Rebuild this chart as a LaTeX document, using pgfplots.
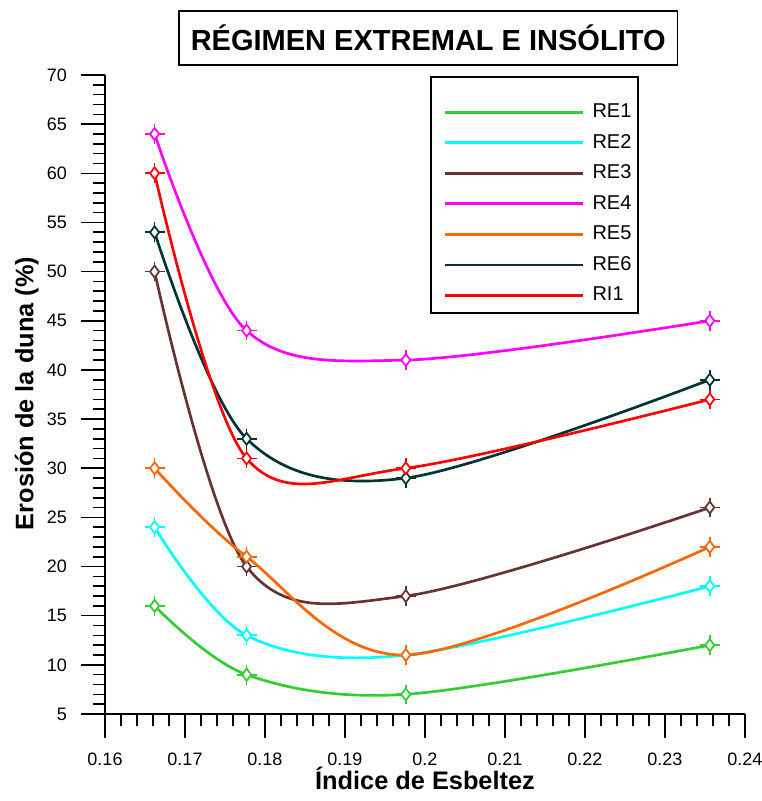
\documentclass[border=0pt]{standalone}
\usepackage{pgfplots}
\pgfplotsset{compat=1.18}
\usepackage{fontspec}
\setmainfont{Liberation Sans}
\definecolor{cRE1}{HTML}{33CC33}
\definecolor{cRE2}{HTML}{00FFFF}
\definecolor{cRE3}{HTML}{663333}
\definecolor{cRE4}{HTML}{FF00FF}
\definecolor{cRE5}{HTML}{FF6600}
\definecolor{cRE6}{HTML}{003333}
\definecolor{cRI1}{HTML}{FF0000}
\begin{document}
\begin{tikzpicture}
\begin{axis}[
  scale only axis, width=480pt, height=479.25pt,
  xmin=0.16, xmax=0.24, ymin=5, ymax=70,
  axis lines*=left,
  axis line style={line width=1.2pt,-},
  xtick={0.16,0.17,0.18,0.19,0.2,0.21,0.22,0.23,0.24},
  xticklabels={0.16,0.17,0.18,0.19,0.2,0.21,0.22,0.23,0.24},
  ytick={5,10,15,20,25,30,35,40,45,50,55,60,65,70},
  minor x tick num=4, minor y tick num=4,
  tick align=outside, major tick length=18pt, minor tick length=9pt,
  every tick/.style={black, line width=1.2pt},
  tick label style={font=\fontsize{13.5}{16}\selectfont},
  xticklabel style={yshift=-7.5pt},
  yticklabel style={xshift=-7pt},
  /pgf/number format/assume math mode=true,
  xlabel={Índice de Esbeltez},
  ylabel={Erosión de la duna (\%)},
  label style={font=\fontsize{19}{23}\selectfont\bfseries},
  xlabel style={at={(axis description cs:0.5,-0.1174)}, anchor=base},
  ylabel style={at={(axis description cs:-0.112,0.5016)}, anchor=base},
  clip=false,
  legend style={at={(0.528,0.961)}, anchor=north west, draw=none, fill=none,
    nodes={font=\fontsize{15}{18}\selectfont, text height=11pt, text depth=3pt, inner sep=2pt},
    inner xsep=0pt, inner ysep=0pt,
    row sep=4.9pt, cells={anchor=west},
    /tikz/every odd column/.append style={column sep=4pt}},
  legend image code/.code={\draw[mark=none,#1,line width=2pt] (0pt,0pt) -- (104pt,0pt);},
  every axis plot/.append style={line width=2pt, smooth, tension=0.55,
    mark=diamond*, mark size=4.5pt, mark options={fill=white, solid, line width=1.3pt},
    error bars/x dir=both, error bars/x fixed=0.00125,
    error bars/y dir=both, error bars/y fixed=1,
    error bars/error mark=none, error bars/error bar style={line width=1.3pt}},
]
\draw[black, line width=0.8pt] (axis description cs:0.5094,0.9969) rectangle (axis description cs:0.8328,0.6275);
\addplot[cRE1, line width=2pt] coordinates {(0.1662,16) (0.1777,9) (0.1976,7) (0.2356,12)};
\addlegendentry{RE1}
\addplot[cRE2, line width=2pt] coordinates {(0.1662,24) (0.1777,13) (0.1976,11) (0.2356,18)};
\addlegendentry{RE2}
\addplot[cRE3, line width=2pt] coordinates {(0.1662,50) (0.1777,20) (0.1976,17) (0.2356,26)};
\addlegendentry{RE3}
\addplot[cRE4, line width=2pt] coordinates {(0.1662,64) (0.1777,44) (0.1976,41) (0.2356,45)};
\addlegendentry{RE4}
\addplot[cRE5, line width=2pt] coordinates {(0.1662,30) (0.1777,21) (0.1976,11) (0.2356,22)};
\addlegendentry{RE5}
\addplot[cRE6, line width=2pt] coordinates {(0.1662,54) (0.1777,33) (0.1976,29) (0.2356,39)};
\addlegendentry{RE6}
\addplot[cRI1, line width=2pt] coordinates {(0.1662,60) (0.1777,31) (0.1976,30) (0.2356,37)};
\addlegendentry{RI1}
\node[draw=black, line width=1pt, minimum width=374pt, minimum height=40.5pt, inner sep=0pt,
  font=\fontsize{21.75}{26}\selectfont\bfseries] at (axis description cs:0.505,1.058) {RÉGIMEN EXTREMAL E INSÓLITO};
\end{axis}
\pgfresetboundingbox
\path (current axis.south west) ++(-78.75pt,-65.25pt) coordinate (bl);
\path (current axis.south west) ++(492.75pt,535.5pt) coordinate (tr);
\path[use as bounding box] (bl) rectangle (tr);
\end{tikzpicture}
\end{document}
